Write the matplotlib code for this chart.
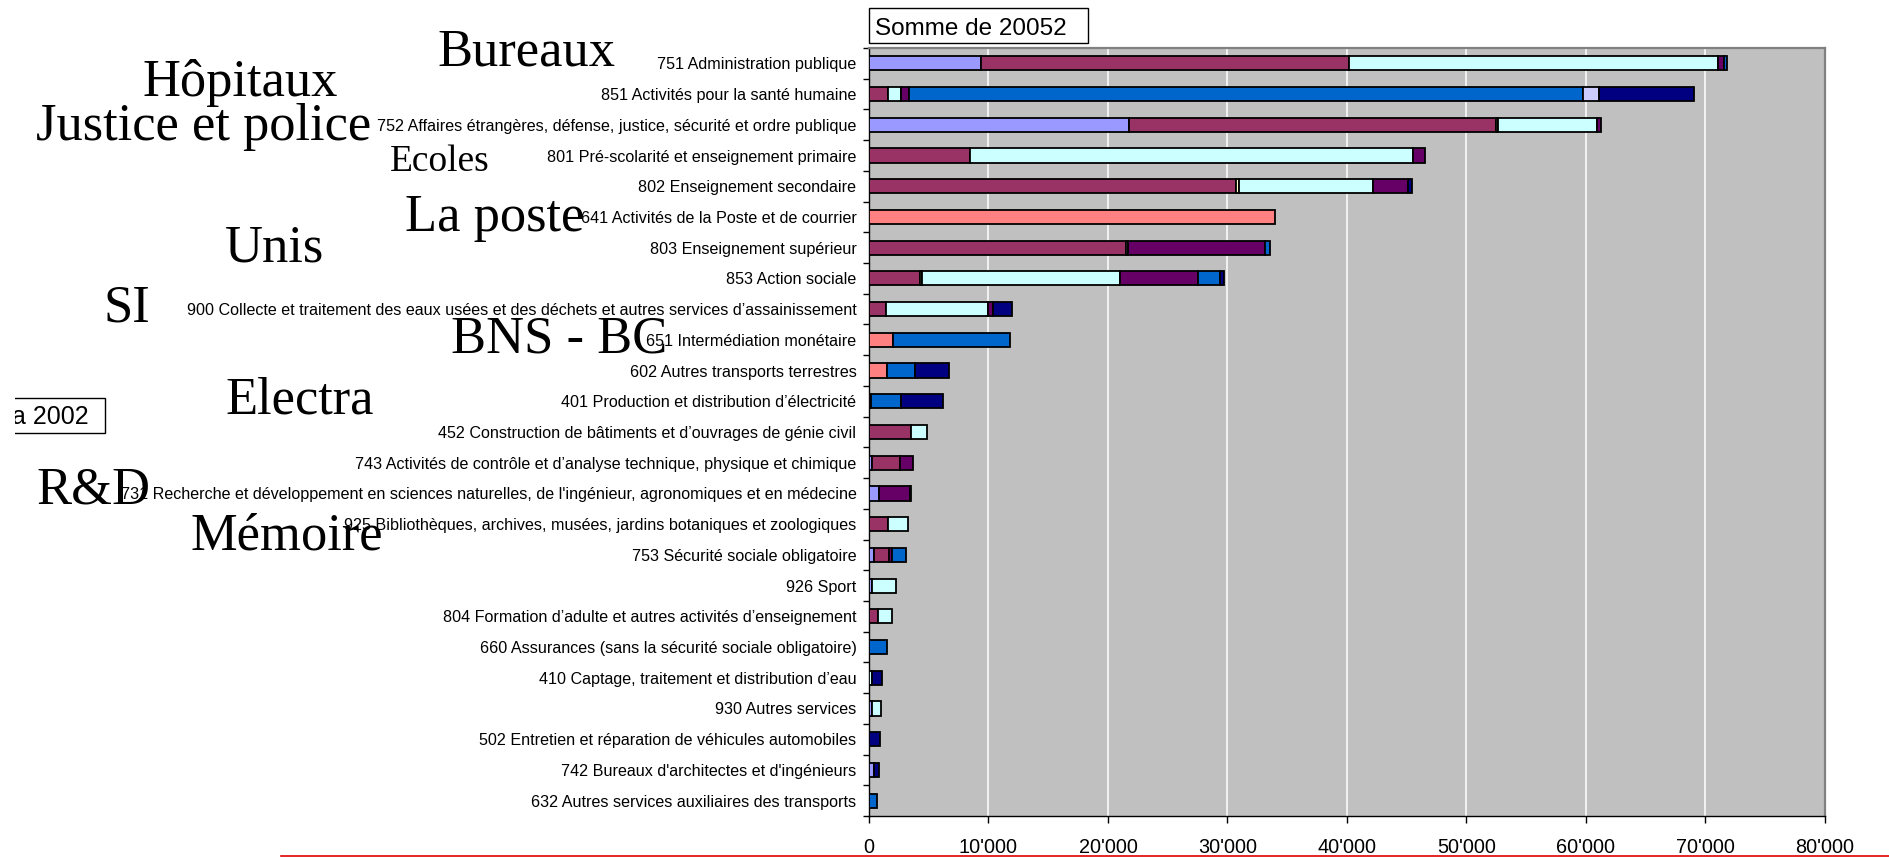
import numpy as np
import matplotlib
matplotlib.use("Agg")
import matplotlib.pyplot as plt
from matplotlib.ticker import FuncFormatter, FixedLocator
from matplotlib.patches import Rectangle
from matplotlib.lines import Line2D

# categories, top to bottom
cats = [
    "751 Administration publique",
    "851 Activités pour la santé humaine",
    "752 Affaires étrangères, défense, justice, sécurité et ordre publique",
    "801 Pré-scolarité et enseignement primaire",
    "802 Enseignement secondaire",
    "641 Activités de la Poste et de courrier",
    "803 Enseignement supérieur",
    "853 Action sociale",
    "900 Collecte et traitement des eaux usées et des déchets et autres services d’assainissement",
    "651 Intermédiation monétaire",
    "602 Autres transports terrestres",
    "401 Production et distribution d’électricité",
    "452 Construction de bâtiments et d’ouvrages de génie civil",
    "743 Activités de contrôle et d’analyse technique, physique et chimique",
    "731 Recherche et développement en sciences naturelles, de l'ingénieur, agronomiques et en médecine",
    "925 Bibliothèques, archives, musées, jardins botaniques et zoologiques",
    "753 Sécurité sociale obligatoire",
    "926 Sport",
    "804 Formation d’adulte et autres activités d’enseignement",
    "660 Assurances (sans la sécurité sociale obligatoire)",
    "410 Captage, traitement et distribution d’eau",
    "930 Autres services",
    "502 Entretien et réparation de véhicules automobiles",
    "742 Bureaux d'architectes et d'ingénieurs",
    "632 Autres services auxiliaires des transports",
]

# stacked segments (same order as cats)
s1 = [9360, 0, 21790, 0, 0, 0, 0, 0, 0, 0, 0, 0, 0, 220, 870, 0, 380, 290, 0, 0, 0, 220, 0, 380, 0]
s2 = [30770, 1570, 30690, 8460, 30740, 0, 21510, 4230, 1410, 0, 0, 200, 3490, 2380, 0, 1570, 1290, 0, 770, 0, 0, 0, 0, 0, 0]
s3 = [0, 0, 190, 0, 250, 0, 0, 220, 0, 0, 0, 0, 0, 0, 0, 0, 0, 0, 0, 0, 0, 0, 0, 0, 0]
s4 = [30880, 1120, 8260, 37085, 11220, 0, 150, 16580, 8560, 0, 0, 0, 1350, 0, 0, 1700, 0, 1950, 1190, 0, 220, 770, 0, 0, 0]
s5 = [570, 640, 310, 1020, 2860, 0, 11480, 6500, 410, 0, 0, 0, 0, 1050, 2560, 0, 220, 0, 0, 0, 0, 0, 0, 0, 0]
s6 = [0, 0, 0, 0, 0, 34010, 0, 0, 0, 2050, 1470, 0, 0, 0, 0, 0, 0, 0, 0, 0, 0, 0, 0, 0, 0]
s7 = [250, 56400, 0, 0, 0, 0, 390, 1830, 0, 9780, 2410, 2470, 0, 0, 60, 0, 1220, 0, 0, 1510, 0, 0, 0, 0, 700]
s8 = [0, 1350, 0, 0, 0, 0, 0, 0, 0, 0, 0, 0, 0, 0, 0, 0, 0, 0, 0, 0, 0, 0, 0, 0, 0]
s9 = [0, 7980, 0, 0, 400, 0, 0, 320, 1610, 0, 2820, 3530, 0, 0, 0, 0, 0, 0, 0, 0, 870, 0, 900, 450, 0]

series = [s1, s2, s3, s4, s5, s6, s7, s8, s9]
colors = ["#9999FF", "#993366", "#FFFFCC", "#CCFFFF", "#660066",
          "#FF8080", "#0066CC", "#CCCCFF", "#000080"]

# big annotation words: text, x px, baseline px, size
words = [
    ("Bureaux", 437, 66, 37.8),
    ("Hôpitaux", 143, 96, 37.8),
    ("Justice et police", 36, 140, 37.8),
    ("Ecoles", 390, 171, 27),
    ("La poste", 405, 231, 37.8),
    ("Unis", 225, 262, 37.8),
    ("SI", 104, 321, 37.8),
    ("BNS - BC", 451, 353, 37.8),
    ("Electra", 225, 413, 37.8),
    ("R&D", 36, 503, 37.8),
    ("Mémoire", 191, 549, 37.8),
]

W, H = 1890, 857
fig = plt.figure(figsize=(W / 100, H / 100), dpi=100)
ax = fig.add_axes([869 / W, 1 - 816 / H, (1825 - 869) / W, (816 - 48) / H])
ax.set_facecolor("#C0C0C0")

y = np.arange(len(cats))
left = np.zeros(len(cats))
for vals, col in zip(series, colors):
    vals = np.array(vals, dtype=float)
    nz = vals > 0
    ax.barh(y[nz], vals[nz], left=left[nz], height=0.46, color=col,
            edgecolor="black", linewidth=1.3, zorder=3)
    left += vals

ax.set_xlim(0, 80000)
ax.set_ylim(len(cats) - 0.5, -0.5)
ax.set_xticks(np.arange(0, 80001, 10000))
ax.xaxis.set_major_formatter(FuncFormatter(lambda v, p: f"{int(v):,}".replace(",", "'")))
ax.grid(axis="x", color="white", linewidth=1.1, zorder=1)
ax.set_axisbelow(True)

ax.set_yticks(y)
ax.set_yticklabels(cats, fontsize=11.6, family="Liberation Sans")
ax.yaxis.set_minor_locator(FixedLocator(np.arange(-0.5, len(cats), 1.0)))
ax.tick_params(axis="y", which="major", length=0, pad=9)
ax.tick_params(axis="y", which="minor", length=4.5, width=1, direction="out")
ax.tick_params(axis="x", which="major", length=5, width=1, direction="out", pad=11,
               labelsize=14.3)
for lab in ax.get_xticklabels():
    lab.set_family("Liberation Sans")

for side in ["top", "right"]:
    ax.spines[side].set_color("#808080")
    ax.spines[side].set_linewidth(1.6)
for side in ["left", "bottom"]:
    ax.spines[side].set_color("black")
    ax.spines[side].set_linewidth(1.0)

# "Somme de 20052" box
fig.patches.append(Rectangle((869 / W, 1 - 43 / H), (1088 - 869) / W, 35 / H,
                             transform=fig.transFigure, facecolor="white",
                             edgecolor="black", linewidth=1))
fig.text(875 / W, 1 - 35 / H, "Somme de 20052", fontsize=17.5,
         family="Liberation Sans", va="baseline", ha="left")

# clipped box at left (cut off by the screenshot edge)
fig.patches.append(Rectangle((0 / W, 1 - 433 / H), 105 / W, 35 / H,
                             transform=fig.transFigure, facecolor="white",
                             edgecolor="black", linewidth=1))
fig.text(12 / W, 1 - 424 / H, "a 2002", fontsize=18,
         family="Liberation Sans", va="baseline", ha="left")
fig.patches.append(Rectangle((0, 1 - 440 / H), 15 / W, 50 / H,
                             transform=fig.transFigure, facecolor="white",
                             edgecolor="none", zorder=10))

for txt, xp, bp, sz in words:
    fig.text(xp / W, 1 - bp / H, txt, fontsize=sz, family="Liberation Serif",
             va="baseline", ha="left")

# red line at the bottom
fig.lines.append(Line2D([281 / W, 1], [0.6 / H, 0.6 / H], transform=fig.transFigure,
                        color="#E00000", linewidth=1.2))

fig.savefig("out.png", dpi=100)
